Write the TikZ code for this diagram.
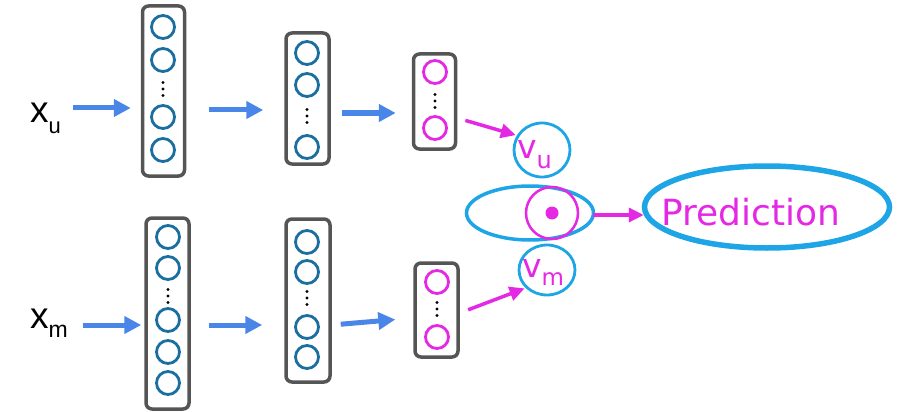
\documentclass[tikz,border=0pt]{standalone}
\usepackage{fontspec}
\setmainfont{Liberation Sans}
\newfontfamily\handfont{DejaVu Sans}
\usetikzlibrary{arrows.meta,shapes.geometric}

\definecolor{flowblue}{RGB}{74,134,232}
\definecolor{unitblue}{RGB}{26,110,160}
\definecolor{boxgray}{RGB}{85,85,85}
\definecolor{penpink}{RGB}{228,40,228}
\definecolor{penblue}{RGB}{30,165,230}

\tikzset{
  layerbox/.style={draw=boxgray, line width=3.5pt, rounded corners=6pt, inner sep=0},
  unit/.style={circle, draw=unitblue, line width=2.8pt, minimum size=23pt, inner sep=0},
  embunit/.style={unit, draw=penpink},
  vdots/.style={minimum width=6pt, minimum height=22pt, inner sep=0,
    path picture={\fill (path picture bounding box.center) circle (1.6pt)
      +(0,6.5pt) circle (1.6pt) +(0,-6.5pt) circle (1.6pt);}},
  flow/.style={draw=flowblue, line width=5pt, -{Triangle[length=17pt,width=17pt]}},
  penarrow/.style={draw=penpink, line width=3.5pt, -{Triangle[length=15pt,width=14pt]}},
  penloop/.style={ellipse, draw=penblue, line width=2.8pt, inner sep=0},
  label/.style={anchor=base west, inner sep=0},
}

\begin{document}
\begin{tikzpicture}[x=1pt,y=-1pt]
  \useasboundingbox (0,0) rectangle (903,412);
  % user tower
  \node[label] (xu) at (30,122) {\fontsize{37}{37}\selectfont x\raisebox{-11pt}{\fontsize{22}{22}\selectfont u}};
  \node[layerbox, minimum width=42pt, minimum height=170pt] (b1u) at (163.5,91) {};
  \node[layerbox, minimum width=43pt, minimum height=131pt] (b2u) at (307.5,98.5) {};
  \node[layerbox, minimum width=42pt, minimum height=95pt] (b3u) at (434.5,101.5) {};
  \foreach \y [count=\i] in {27,60,117,150} \node[unit] (u1\i) at (163,\y) {};
  \foreach \y [count=\i] in {53,85,147} \node[unit] (u2\i) at (307,\y) {};
  \foreach \y [count=\i] in {72,128} \node[embunit] (u3\i) at (435,\y) {};
  \node[vdots] (d1u) at (163,89) {};
  \node[vdots] (d2u) at (307,116) {};
  \node[vdots] (d3u) at (435,101) {};
  \draw[flow, shorten <=12pt, shorten >=10pt] (xu.east |- 0,108) -- (b1u.west |- 0,108);
  \draw[flow, shorten <=23pt, shorten >=21pt] (b1u.east |- 0,110) -- (b2u.west |- 0,110);
  \draw[flow, shorten <=11pt, shorten >=16pt] (b2u.east |- 0,113) -- (b3u.west |- 0,113);
  % movie tower
  \node[label] (xm) at (30,328) {\fontsize{37}{37}\selectfont x\raisebox{-9pt}{\fontsize{23}{23}\selectfont m}};
  \node[layerbox, minimum width=43pt, minimum height=191pt] (b1m) at (167.5,313.5) {};
  \node[layerbox, minimum width=44pt, minimum height=163pt] (b2m) at (308,300.5) {};
  \node[layerbox, minimum width=43pt, minimum height=94pt] (b3m) at (436.5,310) {};
  \foreach \y [count=\i] in {237,268,320,352,383} \node[unit] (m1\i) at (168,\y) {};
  \foreach \y [count=\i] in {242,272,327,357} \node[unit] (m2\i) at (307,\y) {};
  \foreach \y [count=\i] in {282,337} \node[embunit] (m3\i) at (437,\y) {};
  \node[vdots] (d1m) at (168,296) {};
  \node[vdots] (d2m) at (307,298) {};
  \node[vdots] (d3m) at (437,309) {};
  \draw[flow, shorten <=15pt, shorten >=3pt] (xm.east |- 0,325) -- (b1m.west |- 0,325);
  \draw[flow, shorten <=18pt, shorten >=22pt] (b1m.east |- 0,325) -- (b2m.west |- 0,325);
  \draw[flow, shorten <=9pt, shorten >=18pt] (b2m.east |- 0,325) -- (b3m.west |- 0,318);
  % dot product
  \node[penloop, minimum width=56pt, minimum height=54pt] (vu) at (542,150) {};
  \node[label, text=penpink] (vutext) at (517,158) {\handfont\fontsize{33}{33}\selectfont v\raisebox{-10pt}{\fontsize{24}{24}\selectfont u}};
  \node[penloop, line width=3.5pt, minimum width=127pt, minimum height=54pt] (mult) at (530,213) {};
  \node[circle, draw=penpink, line width=2.5pt, minimum size=52pt, inner sep=0] (dotc) at (552,213) {};
  \node[circle, fill=penpink, minimum size=13pt, inner sep=0] (dotm) at (dotc) {};
  \node[penloop, minimum width=56pt, minimum height=50pt] (vm) at (547,270) {};
  \node[label, text=penpink] (vmtext) at (522,277) {\handfont\fontsize{33}{33}\selectfont v\raisebox{-8pt}{\fontsize{23}{23}\selectfont m}};
  \node[penloop, line width=5.5pt, minimum width=245pt, minimum height=82pt] (pred) at (767,207) {};
  \node[label, text=penpink] (predtext) at (661,225) {\handfont\fontsize{36}{36}\selectfont Prediction};
  \draw[penarrow, shorten <=8.5pt, shorten >=1pt] (b3u.east |- 0,118) -- (vu.150);
  \draw[penarrow, shorten <=9pt, shorten >=1pt] (b3m.east |- 0,313) -- (vm.220);
  \draw[penarrow, shorten <=14pt, shorten >=-2pt] (dotc.east |- 0,215) -- (pred.west |- 0,215);
\end{tikzpicture}
\end{document}
